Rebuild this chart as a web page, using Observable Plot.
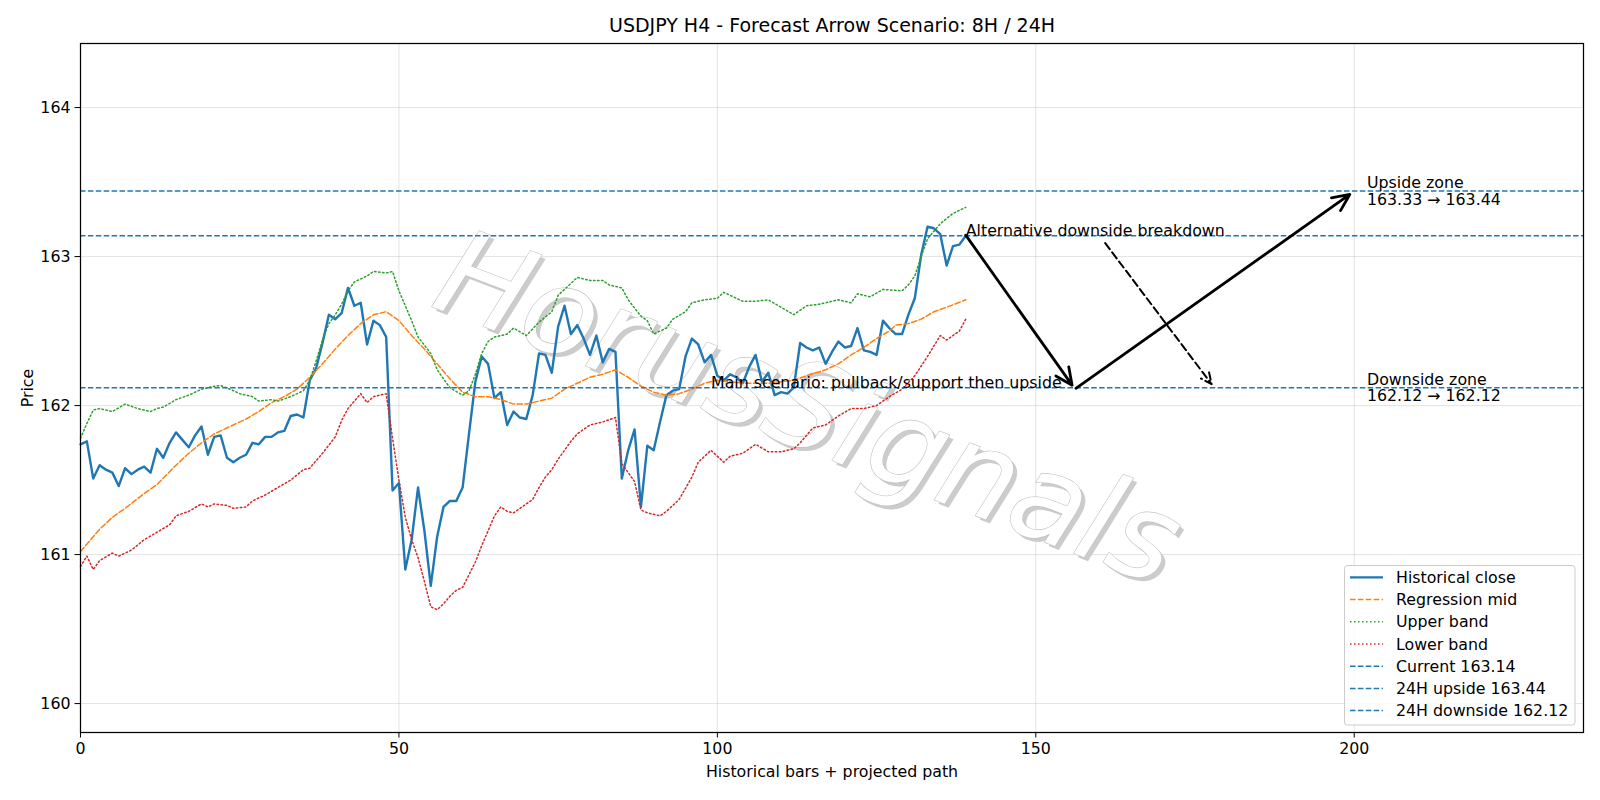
<!DOCTYPE html>
<html><head><meta charset="utf-8">
<script src="https://cdn.jsdelivr.net/npm/d3@7"></script>
<script src="https://cdn.jsdelivr.net/npm/@observablehq/plot@0.6"></script>
<style>
body{margin:0;background:#fff;}
#chart svg{display:block;}
</style>
</head><body><div id="chart"></div>
<script>
// ---------- data ----------
const titleText = "USDJPY H4 - Forecast Arrow Scenario: 8H / 24H";
const xLabel = "Historical bars + projected path";
const yLabel = "Price";
const xTicks = [0, 50, 100, 150, 200];
const yTicks = [160, 161, 162, 163, 164];
const xDomain = [0, 236];
const yDomain = [159.806, 164.43];

// Historical close, bars 0..139
const closeValues = [
161.74,161.76,161.51,161.60,161.57,161.55,161.46,161.58,161.54,161.57,
161.59,161.55,161.71,161.65,161.75,161.82,161.77,161.72,161.80,161.86,
161.67,161.79,161.80,161.65,161.62,161.65,161.67,161.75,161.74,161.79,
161.79,161.82,161.83,161.93,161.94,161.92,162.17,162.25,162.42,162.61,
162.58,162.62,162.79,162.67,162.69,162.41,162.57,162.54,162.46,161.43,
161.48,160.90,161.10,161.45,161.16,160.79,161.12,161.32,161.36,161.36,
161.45,161.81,162.16,162.33,162.28,162.05,162.09,161.87,161.96,161.92,
161.91,162.07,162.35,162.34,162.22,162.53,162.67,162.48,162.54,162.45,
162.34,162.47,162.29,162.38,162.36,161.51,161.70,161.84,161.32,161.73,
161.70,161.89,162.07,162.10,162.11,162.33,162.45,162.41,162.29,162.34,
162.20,162.17,162.21,162.19,162.15,162.26,162.34,162.16,162.22,162.07,
162.09,162.08,162.12,162.42,162.39,162.37,162.39,162.28,162.36,162.43,
162.39,162.40,162.52,162.37,162.36,162.34,162.57,162.52,162.48,162.48,
162.61,162.72,163.01,163.20,163.19,163.15,162.94,163.07,163.08,163.14
];

// Regression mid (bar, value)
const midX = [0,3,5,7,10,12,15,17,19,21,24,26,28,30,32,34,36,38,40,42,44,46,48,50,52,54,56,58,60,62,64,66,68,70,72,74,76,78,80,82,84,86,88,90,92,94,96,98,100,102,104,106,108,110,112,114,117,119,121,123,125,127,128,130,132,134,136,139];
const midY = [161.02,161.17,161.25,161.31,161.41,161.47,161.60,161.68,161.75,161.81,161.87,161.91,161.96,162.02,162.06,162.11,162.19,162.28,162.38,162.47,162.55,162.61,162.63,162.57,162.47,162.38,162.28,162.18,162.09,162.06,162.06,162.04,162.01,162.01,162.03,162.05,162.11,162.15,162.19,162.21,162.24,162.19,162.13,162.09,162.07,162.08,162.11,162.15,162.17,162.16,162.15,162.15,162.15,162.16,162.17,162.20,162.24,162.28,162.34,162.39,162.45,162.50,162.54,162.55,162.58,162.63,162.66,162.71];

// Upper band (bar, value)
const upperX = [0,1,2,3,5,7,9,11,12,13,15,17,19,21,22,24,25,27,28,30,31,33,35,36,37,38,39,40,41,42,43,45,46,48,49,50,52,53,55,56,58,60,61,62,63,64,65,67,68,70,72,74,75,77,78,80,82,83,85,86,88,89,90,92,93,95,96,98,100,101,103,104,106,108,110,112,114,116,119,121,122,124,126,129,130,131,132,133,135,137,139];
const upperY = [161.78,161.88,161.97,161.98,161.96,162.01,161.98,161.96,161.98,161.99,162.04,162.07,162.11,162.13,162.135,162.10,162.08,162.06,162.03,162.04,162.03,162.06,162.10,162.17,162.30,162.44,162.55,162.61,162.68,162.77,162.83,162.87,162.90,162.89,162.90,162.77,162.57,162.46,162.35,162.24,162.12,162.07,162.10,162.21,162.35,162.43,162.46,162.48,162.52,162.47,162.56,162.63,162.74,162.82,162.86,162.84,162.84,162.81,162.79,162.71,162.60,162.57,162.48,162.52,162.58,162.63,162.69,162.71,162.72,162.76,162.72,162.70,162.70,162.71,162.66,162.61,162.67,162.68,162.71,162.69,162.75,162.73,162.78,162.77,162.81,162.87,163.00,163.12,163.22,163.29,163.33];

// Lower band (bar, value)
const lowerX = [0,1,2,3,5,6,8,10,12,14,15,17,19,20,21,23,24,26,27,29,31,33,35,36,38,40,41,42,44,45,46,48,49,50,51,52,53,54,55,56,57,58,59,60,62,63,65,66,67,68,70,71,72,73,74,75,77,78,80,82,84,85,86,87,88,89,91,92,94,96,97,99,101,102,104,106,108,110,112,113,115,117,119,121,123,125,127,129,131,133,135,136,138,139];
const lowerY = [160.92,160.99,160.90,160.96,161.01,160.99,161.03,161.10,161.15,161.20,161.26,161.29,161.34,161.32,161.34,161.33,161.31,161.32,161.36,161.40,161.45,161.50,161.57,161.58,161.68,161.79,161.90,161.98,162.08,162.02,162.06,162.08,161.78,161.50,161.25,161.10,160.98,160.82,160.65,160.63,160.67,160.72,160.76,160.78,160.95,161.06,161.26,161.32,161.29,161.28,161.34,161.37,161.45,161.52,161.57,161.64,161.76,161.81,161.87,161.89,161.92,161.61,161.55,161.49,161.30,161.28,161.26,161.29,161.37,161.52,161.62,161.70,161.62,161.66,161.68,161.74,161.69,161.69,161.71,161.75,161.85,161.87,161.93,161.98,161.98,162.00,162.06,162.11,162.20,162.33,162.47,162.44,162.50,162.58];

// Horizontal levels
const levelValues = [163.14, 163.44, 162.12];

// Forecast arrows (bar, price)
const arrowX1 = [139, 156.3, 160.9];
const arrowY1 = [163.144, 162.116, 163.09];
const arrowX2 = [155.7, 199.3, 177.6];
const arrowY2 = [162.137, 163.417, 162.144];
const arrowDashed = [false, false, true];

// Annotations
const annX = [139, 99];
const annY = [163.14, 162.12];
const annText = ["Alternative downside breakdown", "Main scenario: pullback/support then upside"];
const zoneX = [202, 202];
const zoneY = [163.44, 162.12];
const zoneText = ["Upside zone\n163.33 \u2192 163.44", "Downside zone\n162.12 \u2192 162.12"];

const watermarkText = "HorusSignals";

// Legend
const legendLabels = ["Historical close", "Regression mid", "Upper band", "Lower band", "Current 163.14", "24H upside 163.44", "24H downside 162.12"];
const legendColors = ["#1f77b4", "#ff7f0e", "#2ca02c", "#d62728", "#1f77b4", "#1f77b4", "#1f77b4"];
const legendDashes = ["none", "5.5,2.4", "1.5,2.5", "1.5,2.5", "5.5,2.4", "5.5,2.4", "5.5,2.4"];
const legendWidths = [2.4, 1.5, 1.5, 1.5, 1.5, 1.5, 1.5];

// ---------- tables ----------
const closeData = closeValues.map((v, i) => ({x: i, y: v}));
const midData = midX.map((x, i) => ({x, y: midY[i]}));
const upperData = upperX.map((x, i) => ({x, y: upperY[i]}));
const lowerData = lowerX.map((x, i) => ({x, y: lowerY[i]}));
const arrowData = arrowX1.map((x1, i) => ({x1, y1: arrowY1[i], x2: arrowX2[i], y2: arrowY2[i], dashed: arrowDashed[i]}));
const annData = annX.map((x, i) => ({x, y: annY[i], t: annText[i]}));
const zoneData = zoneX.map((x, i) => ({x, y: zoneY[i], t: zoneText[i]}));

const FONT = "DejaVu Sans";
const FS = 15.8;

const chart = Plot.plot({
  width: 1600,
  height: 800,
  marginLeft: 80,
  marginRight: 17,
  marginTop: 43,
  marginBottom: 68,
  style: {fontFamily: FONT, fontSize: FS + "px", background: "white", color: "black", overflow: "visible"},
  x: {domain: xDomain},
  y: {domain: yDomain},
  marks: [
    Plot.gridX(xTicks, {stroke: "#b0b0b0", strokeOpacity: 0.35, strokeWidth: 1}),
    Plot.gridY(yTicks, {stroke: "#b0b0b0", strokeOpacity: 0.35, strokeWidth: 1}),
    // watermark (shadow + outline)
    Plot.text([watermarkText], {frameAnchor: "middle", dx: -20, dy: 26, rotate: 21, fontSize: 120, fontStyle: "italic", fill: "#cccccc", textAnchor: "middle", lineAnchor: "middle"}),
    Plot.text([watermarkText], {frameAnchor: "middle", dx: -24, dy: 22, rotate: 21, fontSize: 120, fontStyle: "italic", fill: "white", stroke: "#c0c0c0", strokeWidth: 1.2, textAnchor: "middle", lineAnchor: "middle"}),
    Plot.line(closeData, {x: "x", y: "y", stroke: "#1f77b4", strokeWidth: 2.4}),
    Plot.line(midData, {x: "x", y: "y", stroke: "#ff7f0e", strokeWidth: 1.5, strokeDasharray: "5.5,2.4"}),
    Plot.line(upperData, {x: "x", y: "y", stroke: "#2ca02c", strokeWidth: 1.5, strokeDasharray: "1.5,2.5"}),
    Plot.line(lowerData, {x: "x", y: "y", stroke: "#d62728", strokeWidth: 1.5, strokeDasharray: "1.5,2.5"}),
    Plot.ruleY(levelValues, {stroke: "#1f77b4", strokeWidth: 1.5, strokeDasharray: "5.5,2.4"}),
    Plot.arrow(arrowData.filter(d => !d.dashed), {x1: "x1", y1: "y1", x2: "x2", y2: "y2", stroke: "black", strokeWidth: 2.8, headLength: 10, headAngle: 50}),
    Plot.arrow(arrowData.filter(d => d.dashed), {x1: "x1", y1: "y1", x2: "x2", y2: "y2", stroke: "black", strokeWidth: 2, strokeDasharray: "7.5,4", headLength: 9, headAngle: 50}),
    Plot.text(annData, {x: "x", y: "y", text: "t", textAnchor: "start", lineAnchor: "bottom", fontSize: FS, fill: "black"}),
    Plot.text(zoneData, {x: "x", y: "y", text: "t", textAnchor: "start", lineAnchor: "middle", lineHeight: 1.05, fontSize: FS, fill: "black"}),
    Plot.axisX(xTicks, {tickSize: 5.5, tickPadding: 4.5, fontSize: FS, label: null, tickFormat: "d"}),
    Plot.axisY(yTicks, {tickSize: 5.5, tickPadding: 4.5, fontSize: FS, label: null, tickFormat: "d"}),
    Plot.frame({stroke: "black", strokeWidth: 1.25}),
    Plot.text([titleText], {frameAnchor: "top", dy: -17.5, lineAnchor: "middle", fontSize: 19, fill: "black"}),
    Plot.text([xLabel], {frameAnchor: "bottom", dy: 39.5, lineAnchor: "middle", fontSize: FS, fill: "black"}),
    Plot.text([yLabel], {frameAnchor: "left", dx: -53, rotate: -90, lineAnchor: "middle", textAnchor: "middle", fontSize: FS, fill: "black"})
  ]
});

// ---------- legend ----------
const svg = d3.select(chart);
const lg = svg.append("g").attr("font-family", FONT).attr("font-size", FS).attr("text-anchor", "start");
lg.append("rect")
  .attr("x", 1344.5).attr("y", 565.5).attr("width", 230.5).attr("height", 159.5)
  .attr("rx", 3).attr("fill", "white").attr("fill-opacity", 0.8).attr("stroke", "#cccccc");
legendLabels.forEach((lab, k) => {
  const y = 577.4 + k * 22.2;
  lg.append("line").attr("x1", 1350).attr("x2", 1383).attr("y1", y).attr("y2", y)
    .attr("stroke", legendColors[k]).attr("stroke-width", legendWidths[k])
    .attr("stroke-dasharray", legendDashes[k]);
  lg.append("text").attr("x", 1396).attr("y", y).attr("dy", "0.36em")
    .attr("text-anchor", "start").attr("fill", "black").text(lab);
});

document.getElementById("chart").appendChild(chart);
</script>
</body></html>
